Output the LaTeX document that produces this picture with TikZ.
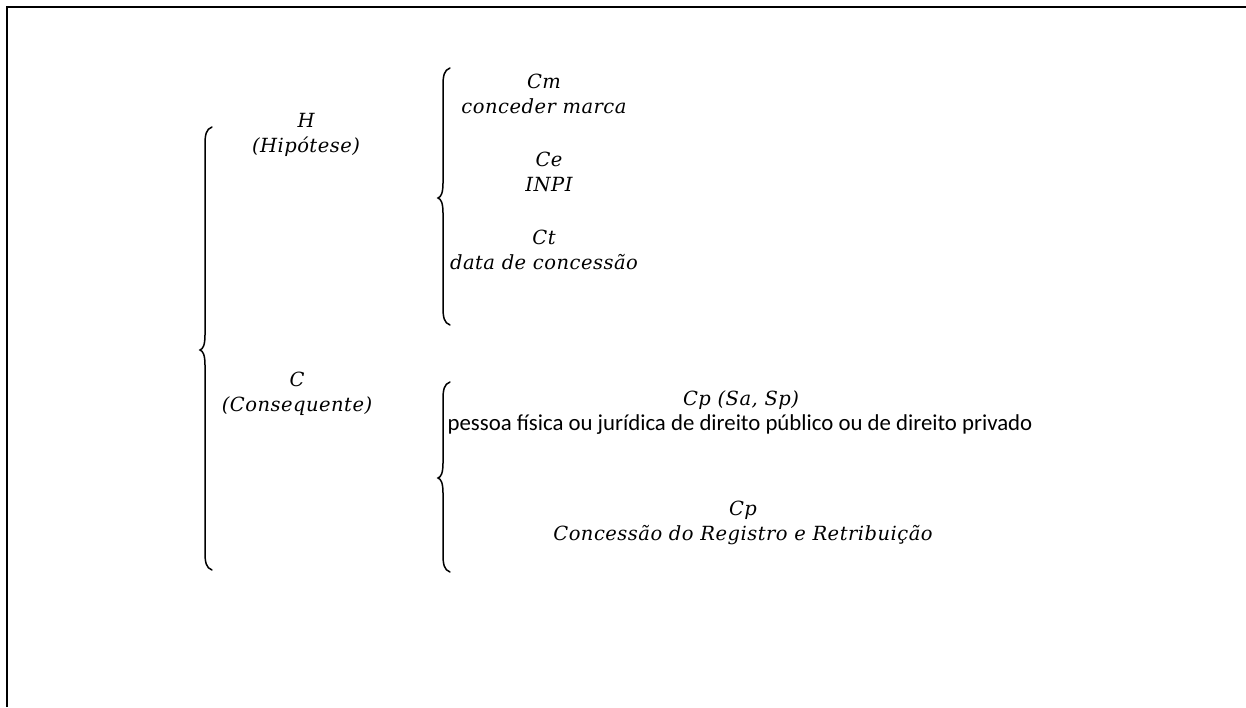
\documentclass[tikz,border=0pt]{standalone}
\usepackage{fontspec}
\setmainfont{Carlito}
\newfontfamily\mifont{DejaVu Serif}[LetterSpace=2.5]
\begin{document}
\begin{tikzpicture}[x=1pt,y=-1pt,
  mi/.style={font=\fontsize{19.5}{24.5}\selectfont\mifont\itshape, align=center, inner sep=0pt},
  tx/.style={font=\fontsize{22.8}{24}\selectfont, inner sep=0pt},
  br/.style={line width=1.5pt, line cap=round}]
\useasboundingbox (0,0) rectangle (1246,707);
\coordinate (fbl) at (7,707);
\coordinate (ftl) at (7,7);
\coordinate (ftr) at (1246,7);
\draw[line width=2.4pt] (fbl) -- (ftl) -- (ftr);
% big left brace
\coordinate (b1t) at (212,127);
\coordinate (b1m) at (200,350);
\coordinate (b1b) at (212,570);
\draw[br] (b1t) .. controls (206,129) and (205,135) .. (205,145) -- (205,335)
  .. controls (205,345) and (203,349) .. (b1m)
  .. controls (203,351) and (205,355) .. (205,365) -- (205,552)
  .. controls (205,562) and (206,568) .. (b1b);
% upper right brace
\coordinate (b2t) at (450,68);
\coordinate (b2m) at (438,198);
\coordinate (b2b) at (450,325);
\draw[br] (b2t) .. controls (444,70) and (443,76) .. (443,86) -- (443,183)
  .. controls (443,193) and (441,197) .. (b2m)
  .. controls (441,199) and (443,203) .. (443,213) -- (443,307)
  .. controls (443,317) and (444,323) .. (b2b);
% lower right brace
\coordinate (b3t) at (450,382);
\coordinate (b3m) at (438,478);
\coordinate (b3b) at (450,572);
\draw[br] (b3t) .. controls (444,384) and (443,390) .. (443,400) -- (443,463)
  .. controls (443,473) and (441,477) .. (b3m)
  .. controls (441,479) and (443,483) .. (443,493) -- (443,554)
  .. controls (443,564) and (444,570) .. (b3b);
% labels
\node[mi] (H) at (306,135) {H\\(Hipótese)};
\node[mi] (C) at (297,394) {C\\(Consequente)};
\node[mi] (Cm) at (544,94) {Cm\\conceder marca};
\node[mi] (Ce) at (549,172) {Ce\\INPI};
\node[mi] (Ct) at (544,250) {Ct\\data de concessão};
\node[mi] (Cp1) at (741,400) {Cp (Sa, Sp)};
\node[tx] (pf) at (740,425) {pessoa física ou jurídica de direito público ou de direito privado};
\node[mi] (Cp2) at (743,523) {Cp\\Concessão do Registro e Retribuição};
\end{tikzpicture}
\end{document}
